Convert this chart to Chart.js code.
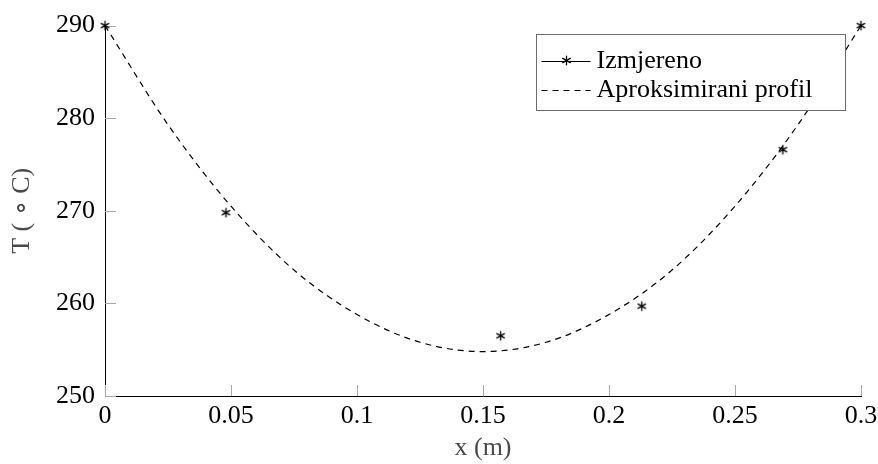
<!DOCTYPE html>
<html>
<head>
<meta charset="utf-8">
<script src="https://cdn.jsdelivr.net/npm/chart.js@4.4.1/dist/chart.umd.min.js"></script>
<style>
  html, body { margin: 0; padding: 0; background: #fff; }
  #wrap { width: 878px; height: 464px; }
</style>
</head>
<body>
<div id="wrap"><canvas id="tempChart"></canvas></div>
<script>
// measured temperatures
const measuredX = [0, 0.048, 0.157, 0.213, 0.269, 0.3];
const measuredT = [290, 269.8, 256.5, 259.7, 276.6, 290];

// fitted profile
const profileX = [0, 0.025, 0.05, 0.075, 0.1, 0.125, 0.15, 0.175, 0.2, 0.225, 0.25, 0.275, 0.3];
const profileT = [290, 279.3, 270.5, 263.6, 258.8, 255.8, 254.8, 255.8, 258.8, 263.6, 270.5, 279.3, 290];

const xTickLabels = ['0', '0.05', '0.1', '0.15', '0.2', '0.25', '0.3'];
const yTickLabels = ['250', '260', '270', '280', '290'];
const seriesNames = ['Izmjereno', 'Aproksimirani profil'];

const FONT = "'Liberation Serif', 'Times New Roman', serif";

// six-armed asterisk like the pgfplots "*" mark
function makeStar(r) {
    const s = Math.ceil(r * 2) + 3;
    const c = document.createElement('canvas');
    c.width = s; c.height = s;
    const g = c.getContext('2d');
    g.strokeStyle = '#000';
    g.lineWidth = 1.3;
    const cx = s / 2, cy = s / 2;
    for (let k = 0; k < 3; k++) {
        const a = Math.PI / 2 + k * Math.PI / 3;
        g.beginPath();
        g.moveTo(cx + r * Math.cos(a), cy + r * Math.sin(a));
        g.lineTo(cx - r * Math.cos(a), cy - r * Math.sin(a));
        g.stroke();
    }
    return c;
}
const star = makeStar(4.8);

// short grey tick marks pointing into the plot
const innerTicks = {
    id: 'innerTicks',
    beforeDatasetsDraw(chart) {
        const { ctx, chartArea, scales } = chart;
        ctx.save();
        ctx.strokeStyle = '#a8a8a8';
        ctx.lineWidth = 1;
        scales.x.ticks.forEach(t => {
            const px = Math.round(scales.x.getPixelForValue(t.value)) + 0.5;
            ctx.beginPath();
            ctx.moveTo(px, chartArea.bottom);
            ctx.lineTo(px, chartArea.bottom - 11);
            ctx.stroke();
        });
        scales.y.ticks.forEach(t => {
            const py = Math.round(scales.y.getPixelForValue(t.value)) + 0.5;
            ctx.beginPath();
            ctx.moveTo(chartArea.left, py);
            ctx.lineTo(chartArea.left + 11, py);
            ctx.stroke();
        });
        ctx.restore();
    }
};

// legend in a grey box, top right of the plot area
const boxLegend = {
    id: 'boxLegend',
    afterDatasetsDraw(chart) {
        const { ctx, chartArea } = chart;
        const w = 309, h = 76;
        const x0 = Math.round(chartArea.right - 16 - w) + 0.5;
        const y0 = Math.round(chartArea.top + 8) + 0.5;
        ctx.save();
        ctx.fillStyle = '#fff';
        ctx.fillRect(x0, y0, w, h);
        ctx.strokeStyle = '#6b6b6b';
        ctx.lineWidth = 1;
        ctx.strokeRect(x0, y0, w, h);

        const rows = [y0 + 26, y0 + 55];
        const lx1 = x0 + 5, lx2 = x0 + 54;
        // row 1: solid line with star
        ctx.strokeStyle = '#000';
        ctx.setLineDash([]);
        ctx.beginPath();
        ctx.moveTo(lx1, Math.round(rows[0]) + 0.5);
        ctx.lineTo(lx2, Math.round(rows[0]) + 0.5);
        ctx.stroke();
        ctx.drawImage(star, Math.round((lx1 + lx2) / 2 - star.width / 2), Math.round(rows[0] - star.height / 2));
        // row 2: dashed line
        ctx.lineWidth = 1.2;
        ctx.setLineDash([6, 5]);
        ctx.beginPath();
        ctx.moveTo(lx1, Math.round(rows[1]) + 0.5);
        ctx.lineTo(lx2, Math.round(rows[1]) + 0.5);
        ctx.stroke();
        ctx.setLineDash([]);

        ctx.fillStyle = '#000';
        ctx.font = '26px ' + FONT;
        ctx.textBaseline = 'middle';
        ctx.textAlign = 'left';
        ctx.fillText(seriesNames[0], x0 + 60, rows[0] + 1);
        ctx.fillText(seriesNames[1], x0 + 60, rows[1] + 1);
        ctx.restore();
    }
};

const ctx = document.getElementById('tempChart').getContext('2d');

const tempChart = new Chart(ctx, {
    type: 'scatter',
    data: {
        datasets: [
            {
                label: seriesNames[1],
                data: profileX.map((x, i) => ({ x: x, y: profileT[i] })),
                showLine: true,
                borderColor: '#000',
                borderWidth: 1.2,
                borderDash: [6, 5],
                cubicInterpolationMode: 'monotone',
                pointRadius: 0,
                clip: false,
                order: 2,
            },
            {
                label: seriesNames[0],
                data: measuredX.map((x, i) => ({ x: x, y: measuredT[i] })),
                showLine: false,
                pointStyle: star,
                pointRadius: 5,
                clip: false,
                order: 1,
            }
        ]
    },
    options: {
        responsive: true,
        maintainAspectRatio: false,
        animation: false,
        layout: {
            padding: { left: 0, right: 0, top: 14, bottom: 0 }
        },
        plugins: {
            legend: { display: false },
            tooltip: { enabled: false }
        },
        scales: {
            x: {
                type: 'linear',
                min: 0,
                max: 0.3,
                afterFit: (scale) => {
                    scale.height = 68;
                    scale.paddingLeft = 0;
                    scale.paddingRight = 17;
                },
                border: { color: '#000', width: 1 },
                grid: {
                    drawOnChartArea: false,
                    drawTicks: false
                },
                ticks: {
                    stepSize: 0.05,
                    padding: 5,
                    maxRotation: 0,
                    color: '#000',
                    font: { family: FONT, size: 26 },
                    callback: (value, index) => xTickLabels[index]
                },
                title: {
                    display: true,
                    text: 'x (m)',
                    color: '#4a4a4a',
                    padding: { top: 0, bottom: 0 },
                    font: { family: FONT, size: 26 }
                }
            },
            y: {
                type: 'linear',
                min: 250,
                max: 290,
                afterFit: (scale) => { scale.width = 105; },
                border: { color: '#000', width: 1 },
                grid: {
                    drawOnChartArea: false,
                    drawTicks: false
                },
                ticks: {
                    stepSize: 10,
                    padding: 10,
                    color: '#000',
                    font: { family: FONT, size: 26 },
                    callback: (value, index) => yTickLabels[index]
                },
                title: {
                    display: true,
                    text: 'T ( ∘ C)',
                    color: '#4a4a4a',
                    padding: { top: 7, bottom: 0 },
                    font: { family: FONT, size: 26 }
                }
            }
        }
    },
    plugins: [innerTicks, boxLegend]
});
</script>
</body>
</html>
